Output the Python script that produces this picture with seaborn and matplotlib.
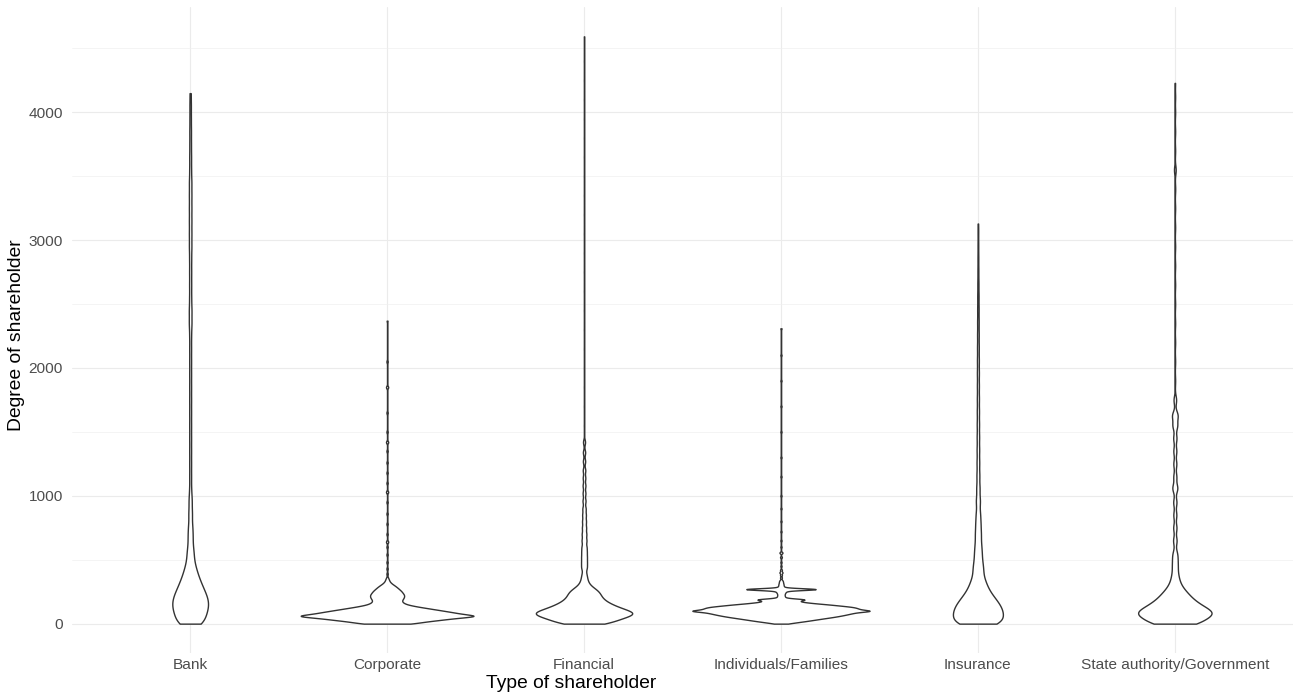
import numpy as np
import pandas as pd
import matplotlib
matplotlib.use("Agg")
import matplotlib.pyplot as plt
from matplotlib.ticker import MultipleLocator
import seaborn as sns

sns.set_style("white")
plt.rcParams["font.family"] = ["Liberation Sans", "DejaVu Sans"]

categories = ["Bank", "Corporate", "Financial", "Individuals/Families",
              "Insurance", "State authority/Government"]

# degree values and number of shareholders with that degree
bank_degree = [0, 40, 80, 120, 160, 200, 240, 280, 320, 360, 400, 440, 480, 540, 600,
               680, 760, 860, 960, 1050, 1150, 1250, 1350, 1450, 1550, 1650, 1750,
               1850, 1950, 2050, 2150, 2250, 2350, 2450, 2550, 2650, 2750, 2850, 2950,
               3050, 3150, 3250, 3350, 3450, 3550, 3650, 3750, 3850, 3950, 4050, 4150]
bank_count = [130, 108, 124, 140, 146, 136, 120, 100, 84, 68, 54, 44, 36, 45, 36,
              40, 36, 35, 30, 18, 18, 18, 18, 18, 18, 18, 18,
              18, 18, 18, 18, 18, 26, 26, 20, 20, 20, 20, 24,
              24, 24, 24, 24, 24, 18, 18, 16, 16, 14, 14, 12]

corporate_degree = [0, 15, 30, 45, 60, 75, 90, 105, 120, 135, 150, 165, 180, 195, 210,
                    225, 240, 255, 270, 285, 300, 315, 330, 345, 360,
                    390, 430, 480, 540, 600, 640, 700, 780, 860, 950, 1030, 1100,
                    1180, 1260, 1350, 1420, 1500, 1650, 1850, 2050, 2370]
corporate_count = [72, 102, 149, 192, 262, 207, 179, 146, 113, 80, 54, 43, 40, 44, 47,
                   47, 43, 39, 33, 27, 20, 12, 7, 5, 3,
                   3, 3, 3, 3, 3, 5, 3, 3, 3, 3, 5, 3,
                   3, 3, 3, 5, 3, 3, 5, 3, 2]

financial_degree = [0, 20, 40, 60, 80, 100, 120, 140, 160, 180, 200, 220, 240, 260, 280,
                    300, 320, 340, 360, 380, 400, 440, 480, 520, 560, 600, 650, 700,
                    750, 800, 850, 900, 960, 1020, 1080, 1140, 1200, 1270, 1340, 1420,
                    1550, 1700, 1850, 2000, 2150, 2300, 2450, 2600, 2750, 2900, 3050,
                    3200, 3350, 3500, 3650, 3800, 3950, 4100, 4250, 4400, 4594]
financial_count = [100, 104, 136, 160, 200, 164, 136, 112, 92, 76, 66, 60, 58, 50, 36,
                   22, 16, 13, 11, 10, 9, 22, 21, 21, 20, 20, 21, 20,
                   18, 17, 16, 15, 14, 13, 13, 12, 12, 11, 11, 10,
                   2, 2, 2, 2, 2, 2, 2, 2, 2, 2, 2,
                   2, 2, 2, 2, 2, 2, 2, 2, 2, 2]

individuals_degree = [0, 10, 20, 30, 40, 50, 60, 70, 80, 90, 100, 110, 120, 130, 140,
                      150, 160, 170, 180, 190, 200, 210, 220, 230, 240, 250, 260, 270,
                      280, 290, 300, 310, 320, 330, 340, 360, 380, 400, 420, 450, 480,
                      520, 555, 600, 650, 720, 800, 900, 1000, 1150, 1300, 1500, 1700,
                      1900, 2100, 2310]
individuals_count = [12, 30, 48, 64, 80, 97, 112, 124, 135, 145, 185, 150, 147, 140, 115,
                     92, 62, 40, 30, 62, 8, 8, 7, 7, 8, 10, 10, 110,
                     6, 6, 5, 5, 4, 4, 3, 3, 3, 5, 3, 2, 2,
                     3, 5, 2, 2, 2, 2, 2, 2, 2, 2, 2, 2,
                     2, 2, 2]

insurance_degree = [0, 40, 80, 120, 160, 200, 240, 280, 320, 360, 420, 480, 550, 620,
                    700, 780, 860, 960, 1060, 1160, 1260, 1360, 1460, 1560, 1660, 1760,
                    1860, 1960, 2060, 2160, 2260, 2360, 2460, 2560, 2660, 2760, 2860,
                    2960, 3060, 3130]
insurance_count = [220, 182, 194, 182, 160, 128, 96, 74, 60, 52, 63, 54, 52, 45,
                   46, 40, 35, 37, 30, 26, 24, 23, 22, 21, 20, 19,
                   18, 18, 17, 16, 15, 14, 13, 12, 10, 8, 7,
                   6, 5, 3]

state_degree = [0, 40, 80, 120, 160, 200, 240, 280, 320, 360, 400, 450, 500, 550, 650,
                750, 850, 950, 1060, 1150, 1250, 1350, 1450, 1550, 1630, 1750, 1900,
                2050, 2200, 2350, 2500, 2650, 2800, 2950, 3100, 3250, 3400, 3550, 3700,
                3850, 4000, 4120, 4230]
state_count = [208, 227, 331, 250, 180, 132, 99, 62, 40, 30, 25, 30, 26, 28, 28,
               26, 24, 26, 40, 24, 24, 24, 26, 37, 44, 21, 5,
               5, 5, 5, 5, 5, 5, 5, 5, 5, 6, 14, 5,
               5, 5, 5, 4]

# kernel bandwidth (degree units) of each violin, in category order
bandwidths = [50, 10, 22, 7, 45, 35]

group_degree = [bank_degree, corporate_degree, financial_degree, individuals_degree,
                insurance_degree, state_degree]
group_count = [bank_count, corporate_count, financial_count, individuals_count,
               insurance_count, state_count]

frames = []
for cat, deg, cnt in zip(categories, group_degree, group_count):
    frames.append(pd.DataFrame({"type": cat, "degree": np.repeat(deg, cnt).astype(float)}))
df = pd.concat(frames, ignore_index=True)

bw_by_max = {float(max(d)): b for d, b in zip(group_degree, bandwidths)}


def bw_rule(kde):
    data = np.asarray(kde.dataset).ravel()
    return bw_by_max[float(data.max())] / data.std(ddof=1)


fig = plt.figure(figsize=(12.93, 6.94), dpi=100)
ax = fig.add_axes([72 / 1293, 41 / 694, 1221 / 1293, 646 / 694])

sns.violinplot(data=df, x="type", y="degree", order=categories, ax=ax,
               color="white", linecolor="#333333", linewidth=1.0, saturation=1,
               inner=None, cut=0, gridsize=2000, density_norm="area",
               width=0.9, bw_method=bw_rule)

ax.set_xlim(-0.6, 5.6)
ax.set_ylim(-229.7, 4823.7)
ax.yaxis.set_major_locator(MultipleLocator(1000))
ax.yaxis.set_minor_locator(MultipleLocator(500))
ax.set_axisbelow(True)
ax.grid(True, which="major", axis="both", color="#EBEBEB", linewidth=0.8)
ax.grid(True, which="minor", axis="y", color="#EFEFEF", linewidth=0.45)
for s in ax.spines.values():
    s.set_visible(False)
ax.tick_params(axis="both", which="both", length=0, labelsize=11.1, labelcolor="#4D4D4D")
ax.tick_params(axis="y", pad=6.5)
ax.tick_params(axis="x", pad=3.6)

ax.set_xlabel("Type of shareholder", fontsize=13.9, color="black")
ax.set_ylabel("Degree of shareholder", fontsize=13.9, color="black")
ax.xaxis.set_label_coords((571 - 72) / 1221, (653 - 684) / 646)
ax.xaxis.label.set_va("center")
ax.yaxis.set_label_coords((17 - 72) / 1221, (653 - 335) / 646)
ax.yaxis.label.set_va("center")

fig.savefig("out.png", dpi=100)
